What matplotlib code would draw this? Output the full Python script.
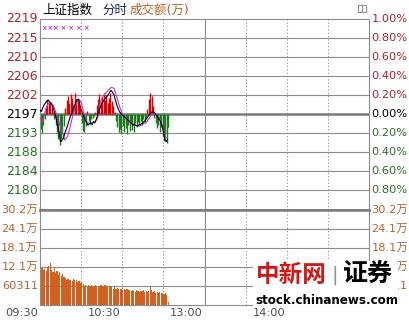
import numpy as np
import matplotlib
matplotlib.use("Agg")
import matplotlib.pyplot as plt
from matplotlib.patches import Rectangle
from matplotlib.transforms import blended_transform_factory

plt.rcParams["font.family"] = ["DejaVu Sans", "Noto Sans CJK SC"]

# ------------------------------------------------------------
# data
# ------------------------------------------------------------
prev_close = 2197.2

price = [
    2198.2, 2197.8, 2198.7, 2199.4, 2199.8, 2200.3, 2200.5, 2200.0, 2199.7, 2199.2,
    2198.2, 2197.2, 2195.9, 2194.4, 2192.8, 2190.9, 2191.2, 2191.6, 2192.7, 2193.6,
    2194.5, 2195.5, 2196.6, 2197.4, 2198.2, 2199.0, 2199.8, 2200.5, 2200.7, 2199.4,
    2198.3, 2197.4, 2196.7, 2195.9, 2195.2, 2194.7, 2195.0, 2195.3, 2194.8, 2195.5,
    2195.2, 2195.9, 2197.0, 2198.2, 2198.8, 2199.7, 2200.1, 2200.7, 2201.0, 2201.4,
    2201.8, 2202.4, 2202.7, 2202.2, 2201.7, 2200.5, 2199.4, 2198.5, 2197.8, 2197.4,
    2197.0, 2196.8, 2196.5, 2196.2, 2195.9, 2195.6, 2195.3, 2195.0, 2194.7, 2194.8,
    2194.6, 2194.5, 2194.7, 2194.8, 2195.0, 2195.2, 2195.5, 2195.9, 2196.3, 2196.8,
    2197.2, 2197.6, 2197.8, 2197.7, 2197.4, 2197.0, 2196.5, 2196.0, 2195.5, 2194.5,
    2193.2, 2191.6, 2190.9, 2191.3,
]

# second (purple) line, read every two minutes
avg_minutes = np.arange(0, 93, 2)
avg_line = [
    2196.3, 2195.5, 2198.2, 2199.7, 2199.9, 2199.0, 2197.2, 2195.2, 2193.4, 2191.3,
    2192.0, 2194.3, 2197.0, 2199.4, 2200.4, 2200.1, 2197.4, 2195.5, 2195.0, 2195.1,
    2195.5, 2196.3, 2200.1, 2201.4, 2202.1, 2202.8, 2203.4, 2203.2, 2201.3, 2199.0,
    2197.4, 2196.5, 2195.9, 2195.3, 2195.0, 2194.6, 2194.5, 2194.7, 2195.1, 2195.5,
    2196.5, 2197.3, 2197.4, 2196.8, 2195.9, 2193.6, 2191.6,
]

# red / green strength bars around the previous close (index points)
strength = [
    -3.5, -4.3, -2.5, -1.0, 1.8, 3.3, 2.5, 2.9, 1.6, 0.5,
    -1.0, -2.5, -4.2, -5.8, -7.0, -6.2, -4.5, -2.8, 1.5, 3.2,
    4.2, 2.6, 4.6, 3.8, 2.2, 4.8, 3.5, 2.8, 3.6, 1.2,
    -2.0, -3.8, -4.0, -2.6, 0.8, -1.5, -2.2, -1.0, -0.8, -0.5,
    0.6, 2.2, 3.5, 4.6, 2.8, 4.0, 4.8, 3.2, 4.4, 2.6,
    3.8, 4.9, 3.0, 1.8, 0.5, -1.5, -3.0, -4.2, -3.5, -4.5,
    -2.8, -4.0, -3.2, -4.6, -2.5, -3.8, -2.2, -3.6, -4.2, -2.0,
    -3.0, -1.8, -2.6, -1.5, -2.4, -1.2, -2.0, -0.8, 1.2, 3.5,
    4.9, 4.2, 2.0, -0.8, -2.0, -3.2, -2.5, -4.0, -3.0, -5.0,
    -6.2, -4.5, -6.6, -3.0,
]

volume = [
    280000, 117000, 112000, 115000, 108000, 118000, 122000, 132000, 112000, 105000,
    118000, 100000, 108000, 95000, 104000, 92000, 98000, 88000, 85000, 80000,
    82000, 78000, 80000, 76000, 82000, 78000, 80000, 74000, 76000, 70000,
    72000, 66000, 60000, 63000, 58000, 62000, 60000, 64000, 58000, 60000,
    62000, 57000, 60000, 58000, 62000, 60000, 59000, 62000, 58000, 60000,
    56000, 61000, 58000, 52000, 56000, 50000, 54000, 49000, 52000, 50000,
    48000, 51000, 47000, 50000, 46000, 48000, 44000, 47000, 45000, 42000,
    46000, 44000, 41000, 45000, 43000, 46000, 42000, 45000, 41000, 44000,
    58000, 48000, 40000, 43000, 39000, 42000, 38000, 40000, 37000, 39000,
    36000, 38000, 30000, 10000,
]

price_labels = ["2219", "2215", "2210", "2206", "2202", "2197",
                "2193", "2188", "2184", "2180"]
pct_labels = ["1.00%", "0.80%", "0.60%", "0.40%", "0.20%", "0.00%",
              "0.20%", "0.40%", "0.60%", "0.80%"]
vol_step = 60311
vol_labels = ["30.2万", "24.1万", "18.1万", "12.1万", "60311"]
time_ticks = [0, 60, 120, 180]
time_labels = ["09:30", "10:30", "13:00", "14:00"]

# ------------------------------------------------------------
# styling
# ------------------------------------------------------------
W, H = 409, 320
UP = "#A3262B"
DOWN = "#2C6E2C"
VOLC = "#B9622F"
BAR_ORANGE = "#D2601E"
GRID = "#8C8C8C"


def fx(x):
    return x / W


def fy(y):
    return 1 - y / H


fig = plt.figure(figsize=(W / 100, H / 100), dpi=100)

ax_p = fig.add_axes([fx(40), fy(209.5), fx(329), 190.5 / H])
ax_v = fig.add_axes([fx(40), fy(305), fx(329), 95.5 / H])

minutes = np.arange(len(price))
step = prev_close * 0.002
p_ticks = prev_close + step * np.arange(5, -6, -1)

for ax in (ax_p, ax_v):
    ax.set_xlim(0, 240)
    ax.set_xticks([])
    ax.set_yticks([])
    for s in ax.spines.values():
        s.set_color(GRID)
        s.set_linewidth(0.8)
    for t in range(30, 240, 30):
        if t == 120:
            ax.axvline(t, color=GRID, lw=0.8, zorder=1)
        else:
            ax.axvline(t, color=GRID, lw=0.8, ls=(0, (1, 2)), zorder=1)

# ---- price panel
ax_p.set_ylim(p_ticks[-1], p_ticks[0])
for i, v in enumerate(p_ticks[1:-1], start=1):
    ax_p.axhline(v, color="#7A7A7A" if i == 5 else GRID,
                 lw=1.8 if i == 5 else 0.8, zorder=1)

s = np.array(strength)
bar_cols = np.where(s >= 0, "#E00000", "#1C7A1C")
ax_p.vlines(minutes + 0.4, prev_close, prev_close + s, colors=bar_cols,
            lw=1.0, zorder=2)
ax_p.plot(avg_minutes, avg_line, color="#C030C8", lw=0.8, zorder=3)
ax_p.plot(minutes, price, color="#000020", lw=0.8, zorder=4)
ax_p.spines["bottom"].set_linewidth(1.8)
ax_p.spines["bottom"].set_color("#7A7A7A")

tr_l = blended_transform_factory(fig.transFigure, ax_p.transData)
for v, lab, k in zip(p_ticks, price_labels, range(10)):
    col = UP if k < 5 else ("black" if k == 5 else DOWN)
    fig.text(fx(38), v, lab, transform=tr_l, ha="right", va="center",
             fontsize=9, color=col)
for v, lab, k in zip(p_ticks, pct_labels, range(10)):
    col = UP if k < 5 else ("black" if k == 5 else DOWN)
    fig.text(fx(371.5), v, lab, transform=tr_l, ha="left", va="center",
             fontsize=8.2, color=col)

# ---- volume panel
vol_ticks = vol_step * np.arange(5, 0, -1)
ax_v.set_ylim(0, vol_step * 5)
for v in vol_ticks[1:]:
    ax_v.axhline(v, color=GRID, lw=0.8, zorder=1)
ax_v.spines["top"].set_linewidth(1.8)
ax_v.spines["top"].set_color("#7A7A7A")
ax_v.bar(minutes + 0.45, volume, width=0.85, color=BAR_ORANGE, lw=0, zorder=2)

tr_v = blended_transform_factory(fig.transFigure, ax_v.transData)
for v, lab in zip(vol_ticks, vol_labels):
    fig.text(fx(38), v, lab, transform=tr_v, ha="right", va="center",
             fontsize=8.2, color=VOLC)
    fig.text(fx(371.5), v, lab, transform=tr_v, ha="left", va="center",
             fontsize=8.2, color=VOLC)

tr_t = blended_transform_factory(ax_v.transData, fig.transFigure)
for t, lab in zip(time_ticks, time_labels):
    fig.text(t - 1.2, fy(313), lab, transform=tr_t, ha="right", va="center",
             fontsize=8.2, color="#505050")

# ---- header
fig.text(fx(42), fy(10), "上证指数", fontsize=9, color="black", va="center")
fig.text(fx(102), fy(10), "分时", fontsize=9, color="#1A2A5A", va="center")
fig.text(fx(130), fy(10), "成交额(万)", fontsize=9, color=VOLC, va="center")
fig.text(fx(42.5), fy(27.5), "××× × × × ×", fontsize=4.8, color="#D020D0",
         va="center", fontweight="bold")
fig.patches.append(Rectangle((fx(358), fy(12)), fx(8), 7 / H, fill=False,
                             ec="#909090", lw=0.8, transform=fig.transFigure))
fig.lines.append(plt.Line2D([fx(362), fx(362)], [fy(12), fy(5)], color="#909090",
                            lw=0.8, transform=fig.transFigure))

# ---- watermark
fig.patches.append(Rectangle((fx(253), fy(306)), fx(145), 45 / H, fc="white",
                             ec="none", transform=fig.transFigure, zorder=5))
fig.text(fx(291), fy(275), "中新网", fontsize=17, color="#D01818", ha="center",
         va="center", family=["Noto Sans CJK SC"], fontweight="bold", zorder=6)
fig.text(fx(335), fy(275), "|", fontsize=14, color="#909090", ha="center",
         va="center", zorder=6)
fig.text(fx(368), fy(274), "证券", fontsize=18, color="black", ha="center",
         va="center", family=["Noto Sans CJK SC"], fontweight="bold", zorder=6)
fig.text(fx(327), fy(300.5), "stock.chinanews.com", fontsize=8.6, color="black",
         ha="center", va="center", fontweight="bold", zorder=6)

fig.savefig("out.png", dpi=100)
